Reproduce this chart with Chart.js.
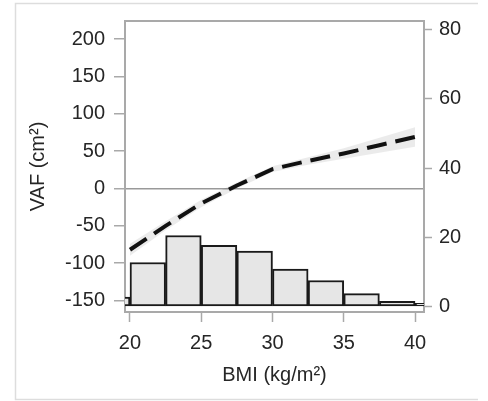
<!DOCTYPE html>
<html>
<head>
<meta charset="utf-8">
<script src="https://cdn.jsdelivr.net/npm/chart.js@4.4.1/dist/chart.umd.min.js"></script>
<style>
  html, body { margin: 0; padding: 0; background: #fff; }
  canvas { display: block; }
</style>
</head>
<body>
<canvas id="myChart" width="488" height="401"></canvas>
<script>
// BMI histogram (right axis, counts)
const binCentres = [18.75, 21.25, 23.75, 26.25, 28.75, 31.25, 33.75, 36.25, 38.75, 41.25];
const binCounts = [2.7, 12.7, 20.5, 17.7, 16, 10.8, 7.5, 3.7, 1.5, 0.9];

// fitted VAF curve and its band (left axis)
const bmiPoints = [20, 22.5, 25, 27.5, 30, 32.5, 35, 37.5, 40];
const vafFit = [-82, -50, -20, 4, 26, 37, 47, 58, 69];
const vafUpper = [-74, -44, -15, 8, 30, 42, 54, 68, 82];
const vafLower = [-90, -56, -25, 0, 22, 32, 40, 48, 56];

const bmiTicks = [20, 25, 30, 35, 40];
const vafTicks = [-150, -100, -50, 0, 50, 100, 150, 200];
const countTicks = [0, 20, 40, 60, 80];

const axisGrey = '#a9a9a9';
const textCol = '#262626';

Chart.defaults.font.family = '"Liberation Sans", Arial, sans-serif';
Chart.defaults.font.size = 20;
Chart.defaults.color = textCol;

function pts(xs, ys) {
  var out = [];
  for (var i = 0; i < xs.length; i++) {
    out.push({x: xs[i], y: ys[i]});
  }
  return out;
}

const frame = {
  id: 'frame',
  beforeDraw(chart) {
    const ctx = chart.ctx;
    const a = chart.chartArea;
    ctx.save();
    ctx.fillStyle = '#fff';
    ctx.fillRect(0, 0, chart.width, chart.height);
    ctx.strokeStyle = '#dddddd';
    ctx.lineWidth = 1.5;
    ctx.beginPath();
    ctx.moveTo(chart.width - 10, 3.5);
    ctx.lineTo(15.5, 3.5);
    ctx.lineTo(15.5, chart.height - 1.5);
    ctx.lineTo(chart.width - 10, chart.height - 1.5);
    ctx.stroke();
    ctx.strokeStyle = axisGrey;
    ctx.lineWidth = 2;
    ctx.beginPath();
    ctx.moveTo(a.left, a.top);
    ctx.lineTo(a.right, a.top);
    ctx.stroke();
    ctx.restore();
  }
};

const config = {
  type: 'bar',
  data: {
    datasets: [
      {
        type: 'line',
        label: 'fit',
        data: pts(bmiPoints, vafFit),
        yAxisID: 'y',
        borderColor: '#111',
        borderWidth: 4,
        borderDash: [20, 9],
        pointRadius: 0,
        fill: false,
        tension: 0,
        order: 1
      },
      {
        type: 'line',
        label: 'upper',
        data: pts(bmiPoints, vafUpper),
        yAxisID: 'y',
        borderColor: 'rgba(0,0,0,0)',
        pointRadius: 0,
        fill: false,
        order: 2
      },
      {
        type: 'line',
        label: 'lower',
        data: pts(bmiPoints, vafLower),
        yAxisID: 'y',
        borderColor: 'rgba(0,0,0,0)',
        backgroundColor: 'rgba(0,0,0,0.08)',
        pointRadius: 0,
        fill: '-1',
        order: 2
      },
      {
        type: 'bar',
        label: 'count',
        data: pts(binCentres, binCounts),
        yAxisID: 'y2',
        backgroundColor: '#e6e6e6',
        borderColor: '#1a1a1a',
        borderWidth: 2,
        borderSkipped: false,
        barPercentage: 1,
        categoryPercentage: 1,
        order: 3
      }
    ]
  },
  options: {
    responsive: false,
    animation: false,
    layout: {padding: {top: 15, left: 0, right: 0, bottom: 0}},
    plugins: {
      legend: {display: false},
      tooltip: {enabled: false}
    },
    scales: {
      x: {
        type: 'linear',
        position: 'bottom',
        min: 19.65,
        max: 40.63,
        offset: false,
        afterBuildTicks: function (s) { s.ticks = bmiTicks.map(v => ({value: v})); },
        afterFit: function (s) { s.height = 89; },
        grid: {drawOnChartArea: false, drawTicks: true, tickLength: 10, tickColor: axisGrey, tickWidth: 1.5, offset: false},
        border: {display: true, color: axisGrey, width: 2},
        ticks: {padding: 9, maxRotation: 0, autoSkip: false, color: textCol},
        title: {display: true, text: 'BMI (kg/m²)', color: textCol, padding: {top: 0, bottom: 14}}
      },
      y: {
        position: 'left',
        min: -165.4,
        max: 224.4,
        afterBuildTicks: function (s) { s.ticks = vafTicks.map(v => ({value: v})); },
        afterFit: function (s) { s.width = 125; },
        grid: {
          drawOnChartArea: true,
          drawTicks: true,
          tickLength: 11,
          tickColor: axisGrey,
          tickWidth: 1.5,
          lineWidth: 1.5,
          color: function (c) { return (c.tick && c.tick.value === 0) ? '#999' : 'rgba(0,0,0,0)'; }
        },
        border: {display: true, color: axisGrey, width: 2},
        ticks: {padding: 9, autoSkip: false, color: textCol},
        title: {display: true, text: 'VAF (cm²)', color: textCol, padding: {top: 26, bottom: 0}}
      },
      y2: {
        position: 'right',
        min: -1.6,
        max: 82.5,
        afterBuildTicks: function (s) { s.ticks = countTicks.map(v => ({value: v})); },
        afterFit: function (s) { s.width = 64; },
        grid: {drawOnChartArea: false, drawTicks: true, tickLength: 8, tickColor: axisGrey, tickWidth: 1.5},
        border: {display: true, color: axisGrey, width: 2},
        ticks: {padding: 7, autoSkip: false, color: textCol}
      }
    }
  },
  plugins: [frame]
};

const myChart = new Chart(document.getElementById('myChart'), config);
</script>
</body>
</html>
